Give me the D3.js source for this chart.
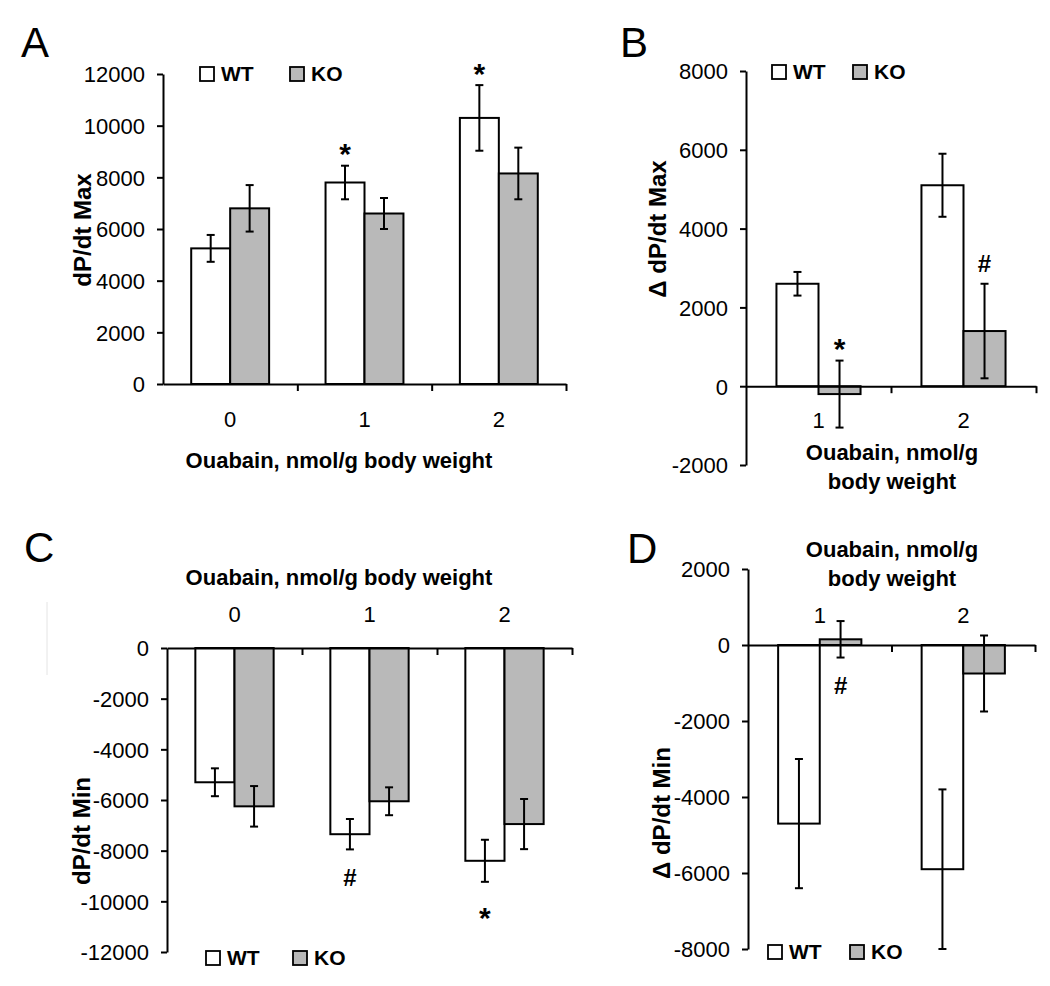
<!DOCTYPE html>
<html>
<head>
<meta charset="utf-8">
<script src="https://cdn.jsdelivr.net/npm/d3@7"></script>
<style>
  body { margin: 0; background: #fff; }
  svg text { font-family: Arial, "Liberation Sans", sans-serif; fill: #000; }
</style>
</head>
<body>
<svg id="fig" width="1050" height="986"></svg>
<script>
// --- data ---
const series = ['WT', 'KO'];
const dosesACD = ['0', '1', '2'];
const dosesBD = ['1', '2'];

// A: dP/dt Max
const aWT = [5250, 7800, 10300];
const aWTerr = [520, 650, 1270];
const aKO = [6800, 6600, 8150];
const aKOerr = [900, 600, 1000];

// B: delta dP/dt Max
const bWT = [2600, 5100];
const bWTerr = [300, 800];
const bKO = [-200, 1400];
const bKOerr = [850, 1200];

// C: dP/dt Min
const cWT = [-5300, -7350, -8400];
const cWTerr = [550, 600, 830];
const cKO = [-6250, -6050, -6950];
const cKOerr = [800, 550, 990];

// D: delta dP/dt Min
const dWT = [-4700, -5900];
const dWTerr = [1700, 2100];
const dKO = [150, -750];
const dKOerr = [480, 1000];

// significance marks: [series, dose index, symbol, side]
const aMarks = [['WT', 1, '*', 'up'], ['WT', 2, '*', 'up']];
const bMarks = [['KO', 0, '*', 'up'], ['KO', 1, '#', 'up']];
const cMarks = [['WT', 1, '#', 'down'], ['WT', 2, '*', 'down']];
const dMarks = [['KO', 0, '#', 'down']];

const FILL = { WT: '#ffffff', KO: '#b9b9b9' };

const svg = d3.select('#fig');

function drawPanel(p) {
  const g = svg.append('g');
  const y = d3.scaleLinear().domain(p.yDomain).range(p.yRange);
  const x = d3.scaleBand().domain(p.cats).range([p.x0, p.x1]).padding(0);
  const bw = x.bandwidth();
  const xs = d3.scaleBand().domain(series).range([bw * 0.21, bw * 0.79]).padding(0);
  const y0 = y(0);

  const rows = [];
  p.cats.forEach((c, i) => {
    rows.push({ s: 'WT', c, i, v: p.wt[i], e: p.wtErr[i] });
    rows.push({ s: 'KO', c, i, v: p.ko[i], e: p.koErr[i] });
  });

  // bars
  g.selectAll('rect.bar').data(rows).join('rect')
    .attr('class', 'bar')
    .attr('x', d => x(d.c) + xs(d.s))
    .attr('width', xs.bandwidth())
    .attr('y', d => Math.min(y(d.v), y0))
    .attr('height', d => Math.abs(y(d.v) - y0))
    .attr('fill', d => FILL[d.s])
    .attr('stroke', '#000')
    .attr('stroke-width', 2);

  // error bars
  const cx = d => x(d.c) + xs(d.s) + xs.bandwidth() / 2;
  const eb = g.selectAll('g.err').data(rows).join('g').attr('class', 'err')
    .attr('stroke', '#000').attr('stroke-width', 2);
  eb.append('line')
    .attr('x1', cx).attr('x2', cx)
    .attr('y1', d => y(d.v + d.e)).attr('y2', d => y(d.v - d.e));
  eb.append('line')
    .attr('x1', d => cx(d) - 4).attr('x2', d => cx(d) + 4)
    .attr('y1', d => y(d.v + d.e)).attr('y2', d => y(d.v + d.e));
  eb.append('line')
    .attr('x1', d => cx(d) - 4).attr('x2', d => cx(d) + 4)
    .attr('y1', d => y(d.v - d.e)).attr('y2', d => y(d.v - d.e));

  // y axis (plain hyphen for negatives, like the original)
  const yAxis = g.append('g')
    .attr('transform', `translate(${p.x0},0)`)
    .call(d3.axisLeft(y).tickValues(d3.range(p.yDomain[0], p.yDomain[1] + 1, p.yStep))
      .tickFormat(d => String(d)).tickSize(6).tickPadding(12).tickSizeOuter(0));
  yAxis.select('.domain').attr('stroke-width', 2);
  yAxis.selectAll('.tick line').attr('stroke-width', 2);
  yAxis.selectAll('.tick text').attr('font-size', 22).attr('dy', '0.36em');

  // x axis at zero, ticks at the category boundaries
  const xb = d3.scaleLinear().domain([0, p.cats.length]).range([p.x0, p.x1]);
  const xAxis = g.append('g')
    .attr('transform', `translate(0,${y0})`)
    .call(d3.axisBottom(xb).tickValues(d3.range(1, p.cats.length + 1))
      .tickFormat('').tickSize(7).tickSizeOuter(0));
  xAxis.select('.domain').attr('stroke-width', 2);
  xAxis.selectAll('.tick line').attr('stroke-width', 2);

  // category labels
  g.selectAll('text.cat').data(p.cats).join('text')
    .attr('class', 'cat')
    .attr('x', d => x(d) + bw / 2)
    .attr('y', p.catY)
    .attr('text-anchor', 'middle')
    .attr('font-size', 22)
    .text(d => d);

  // x title
  p.xTitle.forEach((t, k) => {
    g.append('text')
      .attr('x', p.xTitleX).attr('y', p.xTitleY + k * 29)
      .attr('text-anchor', 'middle')
      .attr('font-size', 22).attr('font-weight', 'bold')
      .text(t);
  });

  // y title
  g.append('text')
    .attr('transform', `translate(${p.yTitleX},${p.yTitleY}) rotate(-90)`)
    .attr('text-anchor', 'middle')
    .attr('font-size', 24).attr('font-weight', 'bold')
    .text(p.yTitle);

  // panel letter
  g.append('text')
    .attr('x', p.letterX).attr('y', p.letterY)
    .attr('font-size', 42)
    .text(p.letter);

  // legend
  const lg = g.append('g').attr('transform', `translate(${p.legX},${p.legY})`);
  series.forEach((s, k) => {
    const ox = k * p.legGap;
    lg.append('rect')
      .attr('x', ox).attr('y', -14).attr('width', 14).attr('height', 14)
      .attr('fill', FILL[s]).attr('stroke', '#000').attr('stroke-width', 1.8);
    lg.append('text')
      .attr('x', ox + 21).attr('y', 0)
      .attr('font-size', 21).attr('font-weight', 'bold')
      .text(s);
  });

  // significance marks
  p.marks.forEach(([s, i, sym, side]) => {
    const r = rows.find(d => d.s === s && d.i === i);
    const end = side === 'up' ? y(r.v + r.e) - 20 : y(r.v - r.e) + 28;
    g.append('text')
      .attr('x', cx(r)).attr('y', end)
      .attr('dy', sym === '*' ? '0.62em' : '0.36em')
      .attr('text-anchor', 'middle')
      .attr('font-size', sym === '*' ? 30 : 24)
      .attr('font-weight', 'bold')
      .text(sym);
  });
}

drawPanel({
  letter: 'A', letterX: 21, letterY: 57,
  cats: dosesACD, wt: aWT, wtErr: aWTerr, ko: aKO, koErr: aKOerr, marks: aMarks,
  x0: 163, x1: 566, yDomain: [0, 12000], yRange: [384, 74], yStep: 2000,
  catY: 427, xTitle: ['Ouabain, nmol/g body weight'], xTitleX: 339, xTitleY: 468,
  yTitle: 'dP/dt Max', yTitleX: 91, yTitleY: 230,
  legX: 200, legY: 81, legGap: 90
});

drawPanel({
  letter: 'B', letterX: 620, letterY: 57,
  cats: dosesBD, wt: bWT, wtErr: bWTerr, ko: bKO, koErr: bKOerr, marks: bMarks,
  x0: 746, x1: 1036, yDomain: [-2000, 8000], yRange: [465, 71], yStep: 2000,
  catY: 428, xTitle: ['Ouabain, nmol/g', 'body weight'], xTitleX: 892, xTitleY: 460,
  yTitle: '\u0394 dP/dt Max', yTitleX: 666, yTitleY: 229,
  legX: 772, legY: 79, legGap: 81
});

drawPanel({
  letter: 'C', letterX: 24, letterY: 562,
  cats: dosesACD, wt: cWT, wtErr: cWTerr, ko: cKO, koErr: cKOerr, marks: cMarks,
  x0: 167, x1: 572, yDomain: [-12000, 0], yRange: [952, 648], yStep: 2000,
  catY: 622, xTitle: ['Ouabain, nmol/g body weight'], xTitleX: 339, xTitleY: 585,
  yTitle: 'dP/dt Min', yTitleX: 90, yTitleY: 831,
  legX: 206, legY: 965, legGap: 87
});

drawPanel({
  letter: 'D', letterX: 627, letterY: 563,
  cats: dosesBD, wt: dWT, wtErr: dWTerr, ko: dKO, koErr: dKOerr, marks: dMarks,
  x0: 748, x1: 1035, yDomain: [-8000, 2000], yRange: [949, 569], yStep: 2000,
  catY: 623, xTitle: ['Ouabain, nmol/g', 'body weight'], xTitleX: 892, xTitleY: 557,
  yTitle: '\u0394 dP/dt Min', yTitleX: 670, yTitleY: 813,
  legX: 768, legY: 959, legGap: 82
});

// faint scan line left of panel C
svg.append('line')
  .attr('x1', 47).attr('x2', 47).attr('y1', 602).attr('y2', 675)
  .attr('stroke', '#e4e4e4').attr('stroke-width', 1);
</script>
</body>
</html>
